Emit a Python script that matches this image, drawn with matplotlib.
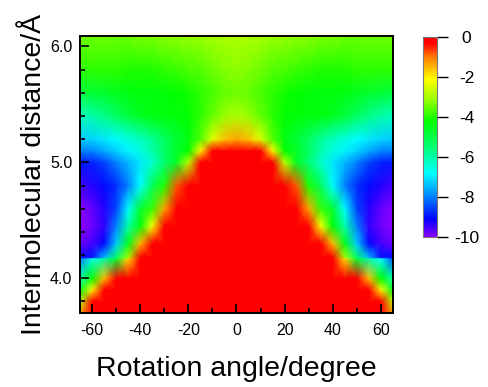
import numpy as np
import matplotlib
matplotlib.use("Agg")
import matplotlib.pyplot as plt
from matplotlib.colors import LinearSegmentedColormap, Normalize
from matplotlib.ticker import MultipleLocator

plt.rcParams['font.family'] = ['Liberation Sans', 'DejaVu Sans']

# ---- data ----
angles = [-65, -60, -55, -50, -45, -40, -35, -30, -25, -20, -15, -10, -5, 0,
          5, 10, 15, 20, 25, 30, 35, 40, 45, 50, 55, 60, 65]
distances = [3.70, 3.80, 3.90, 4.00, 4.17, 4.18, 4.30, 4.45, 4.60, 4.80,
             5.00, 5.10, 5.20, 5.40, 5.60, 5.80, 6.10]
e_370 = [-1.2, 0.8] + [2] * 23 + [0.8, -1.2]
e_380 = [-2.8, -0.2, 1.5] + [2] * 21 + [1.5, -0.2, -2.8]
e_390 = [-4.5, -2.0, 0.0, 1.5] + [2] * 19 + [1.5, 0.0, -2.0, -4.5]
e_400 = [-6.0, -4.2, -1.5, 0.5, 1.5] + [2] * 17 + [1.5, 0.5, -1.5, -4.2, -6.0]
e_417 = [-8.0, -6.6, -6.0, -4.8, -1.8, 0.5, 1.5] + [2] * 13 + [1.5, 0.5, -1.8, -4.8, -6.0, -6.8, -8.4]
e_418 = [-9.0, -8.9, -7.5, -5.4, -3.0, -0.2, 1.0] + [2] * 13 + [1.0, -0.2, -3.0, -5.4, -7.5, -8.9, -9.0]
e_430 = [-9.8, -9.5, -9.0, -7.3, -4.5, -1.5, 0.5, 1.5] + [2] * 11 + [1.5, 0.5, -1.5, -4.5, -7.3, -9.0, -9.5, -9.8]
e_445 = [-10.0, -9.8, -9.4, -8.0, -6.0, -4.3, -2.2, 0.0, 1.0] + [2] * 9 + [1.0, 0.0, -2.2, -4.3, -6.0, -8.0, -9.4, -9.8, -10.0]
e_460 = [-10.0, -9.7, -9.3, -8.5, -6.8, -4.8, -3.8, -1.3, 0.0, 1.0] + [2] * 7 + [1.0, 0.0, -1.3, -3.8, -4.8, -6.8, -8.5, -9.3, -9.7, -10.0]
e_480 = [-9.5, -9.3, -9.0, -8.7, -8.0, -6.8, -5.2, -4.0, -0.8, 0.5, 1.5, 2, 2, 2, 2, 2, 1.5, 0.5, -0.8, -4.0, -5.2, -6.8, -8.0, -8.7, -9.0, -9.3, -9.5]
e_500 = [-8.9, -8.8, -8.5, -8.0, -7.5, -7.0, -6.3, -5.5, -4.6, -2.8, 0.0, 1.5, 2.0, 2.0, 2.0, 1.5, 0.0, -2.8, -4.6, -5.5, -6.3, -7.0, -7.5, -8.0, -8.5, -8.8, -8.9]
e_510 = [-8.0, -7.9, -7.6, -7.2, -6.9, -6.5, -6.0, -5.3, -4.7, -4.2, -2.0, 0.0, 0.8, 1.0, 0.8, 0.0, -2.0, -4.2, -4.7, -5.3, -6.0, -6.5, -6.9, -7.2, -7.6, -7.9, -8.0]
e_520 = [-7.3, -7.2, -7.0, -6.8, -6.5, -6.2, -5.8, -5.3, -4.8, -4.4, -3.6, -2.4, -1.6, -1.3, -1.6, -2.4, -3.6, -4.4, -4.8, -5.3, -5.8, -6.2, -6.5, -6.8, -7.0, -7.2, -7.3]
e_540 = [-6.2, -6.0, -5.7, -5.3, -4.9, -4.6, -4.4, -4.3, -4.3, -4.2, -3.9, -3.5, -3.1, -2.9, -3.1, -3.5, -3.9, -4.2, -4.3, -4.3, -4.4, -4.6, -4.9, -5.3, -5.7, -6.0, -6.2]
e_560 = [-4.9, -4.8, -4.7, -4.5, -4.4, -4.3, -4.3, -4.3, -4.2, -4.1, -3.9, -3.7, -3.5, -3.4, -3.5, -3.7, -3.9, -4.1, -4.2, -4.3, -4.3, -4.3, -4.4, -4.5, -4.7, -4.8, -4.9]
e_580 = [-3.9, -3.9, -3.9, -3.9, -4.0, -4.0, -4.0, -3.9, -3.8, -3.7, -3.6, -3.4, -3.3, -3.2, -3.3, -3.4, -3.6, -3.7, -3.8, -3.9, -4.0, -4.0, -4.0, -3.9, -3.9, -3.9, -3.9]
e_610 = [-3.4, -3.4, -3.4, -3.4, -3.4, -3.3, -3.3, -3.2, -3.2, -3.1, -3.1, -3.0, -2.9, -2.9, -2.9, -3.0, -3.1, -3.1, -3.2, -3.2, -3.3, -3.3, -3.4, -3.4, -3.4, -3.4, -3.4]
cbar_ticks = [0, -2, -4, -6, -8, -10]
x_ticks = [-60, -40, -20, 0, 20, 40, 60]
y_ticks = [4.0, 5.0, 6.0]

energy = np.array([e_370, e_380, e_390, e_400, e_417, e_418, e_430, e_445,
                   e_460, e_480, e_500, e_510, e_520, e_540, e_560, e_580, e_610])

cmap = LinearSegmentedColormap.from_list('rb', [
    (0.00, (0.55, 0.0, 1.0)),
    (0.09, (0.0, 0.0, 1.0)),
    (0.20, (0.0, 0.5, 1.0)),
    (0.32, (0.0, 1.0, 1.0)),
    (0.45, (0.0, 1.0, 0.45)),
    (0.58, (0.0, 1.0, 0.0)),
    (0.69, (0.6, 1.0, 0.0)),
    (0.79, (1.0, 1.0, 0.0)),
    (0.90, (1.0, 0.5, 0.0)),
    (0.97, (1.0, 0.0, 0.0)),
    (1.00, (1.0, 0.0, 0.0)),
])
norm = Normalize(vmin=-10, vmax=0, clip=True)

fig = plt.figure(figsize=(4.89, 3.87), dpi=100)
ax = fig.add_axes([80/489, 1-313/387, 313/489, 277/387])
X, Y = np.meshgrid(angles, distances)
mesh = ax.pcolormesh(X, Y, energy, shading='gouraud', cmap=cmap, norm=norm)
ax.set_xlim(-65, 65)
ax.set_ylim(3.70, 6.09)

ax.set_xticks(x_ticks)
ax.set_xticklabels([str(t) for t in x_ticks])
ax.set_yticks(y_ticks)
ax.set_yticklabels([f"{t:.1f}" for t in y_ticks])
ax.xaxis.set_minor_locator(MultipleLocator(10))
ax.yaxis.set_minor_locator(MultipleLocator(0.2))
ax.tick_params(which='both', direction='in', top=False, right=False, width=1.2)
ax.tick_params(which='major', length=6.5, labelsize=11.5)
ax.tick_params(axis='x', which='major', pad=7)
ax.tick_params(axis='y', which='major', pad=5.5)
ax.tick_params(which='minor', length=3.5)
for s in ax.spines.values():
    s.set_linewidth(1.4)

ax.set_xlabel('Rotation angle/degree', fontsize=20.5)
ax.xaxis.set_label_coords(0.5, -0.155)
ax.set_ylabel('Intermolecular distance/Å', fontsize=20.5)
ax.yaxis.set_label_coords(-0.105, 0.5)

cax = fig.add_axes([422.7/489, 1-237.3/387, 14.6/489, 200/387])
cb = fig.colorbar(mesh, cax=cax, ticks=cbar_ticks)
cb.ax.set_yticklabels([str(t) for t in cbar_ticks])
cb.ax.tick_params(direction='out', length=8, width=1, labelsize=12.5, pad=13)
for lab in cb.ax.get_yticklabels():
    lab.set_horizontalalignment('center')
cb.outline.set_edgecolor('#777777')
cb.outline.set_linewidth(0.8)

fig.savefig('out.png', dpi=100)
